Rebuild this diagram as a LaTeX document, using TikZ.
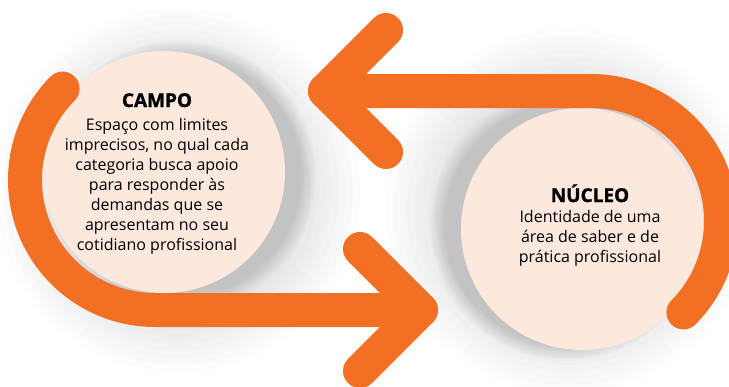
\documentclass[tikz,border=0pt]{standalone}
\usepackage{fontspec}
\setmainfont{Open Sans}[BoldFeatures={FakeBold=1.3}]
\usetikzlibrary{calc}
\definecolor{org}{RGB}{242,112,36}
\definecolor{peach}{RGB}{252,232,221}
\newcommand{\lines}[1]{\begin{tabular}[t]{@{}c@{}}#1\end{tabular}}
\begin{document}
\begin{tikzpicture}[x=1pt,y=-1pt,
  band/.style={draw=org, line width=34pt, line cap=round, line join=round},
  disc/.style={circle, fill=peach, minimum size=242pt, inner sep=0pt},
  titletext/.style={font=\bfseries\fontsize{19}{20}\selectfont, inner sep=0pt, anchor=base},
  bodytext/.style={font=\fontsize{16}{20}\selectfont, inner sep=0pt, anchor=base},
  halo/.style={fill=black, opacity=0.011},
  shadowring/.style={fill=black, opacity=0.013}
]
\useasboundingbox (0,0) rectangle (729,386);
\clip (0,0) rectangle (729,386);
\fill[white] (0,0) rectangle (729,386);
% faint halos
\foreach \r in {182,175,...,133} {
  \fill[halo] (178,190) circle (\r);
  \fill[halo] (568,211) circle (\r);
}
% soft shadows beside the discs
\foreach \i in {1,...,12} {
  \fill[shadowring] (180,176) circle ({120+\i*1.35});
  \fill[shadowring] (566,225) circle ({120+\i*1.35});
}
% discs
\node[disc] (campo) at (164,172) {};
\node[disc] (nucleo) at (582,229) {};
% texts
\node[titletext] (campoT) at (157,107) {CAMPO};
\node[bodytext] (campoB) at (157,130) {\lines{Espaço com limites\\imprecisos, no qual cada\\categoria busca apoio\\para responder às\\demandas que se\\apresentam no seu\\cotidiano profissional}};
\node[titletext] (nucleoT) at (590,202) {NÚCLEO};
\node[bodytext] (nucleoB) at (590,222) {\lines{Identidade de uma\\área de saber e de\\prática profissional}};
% arc centres and arrow points
\coordinate (lc) at (155,180);
\coordinate (rc) at (591,221);
\coordinate (ltip) at (325,91);
\coordinate (rtip) at (421,310);
\coordinate (ua1) at (386,30);
\coordinate (ua2) at (386,152);
\coordinate (la1) at (360,249);
\coordinate (la2) at (360,371);
% upper arrow: from the right arc to the left tip
\draw[band] ($(rc)+(44.7:130)$) arc[start angle=44.7, end angle=-90, radius=130] -- (ltip);
\draw[band] (ua1) -- (ltip) -- (ua2);
% lower arrow: from the left arc to the right tip
\draw[band] ($(lc)+(224.7:130)$) arc[start angle=224.7, end angle=90, radius=130] -- (rtip);
\draw[band] (la1) -- (rtip) -- (la2);
\end{tikzpicture}
\end{document}
